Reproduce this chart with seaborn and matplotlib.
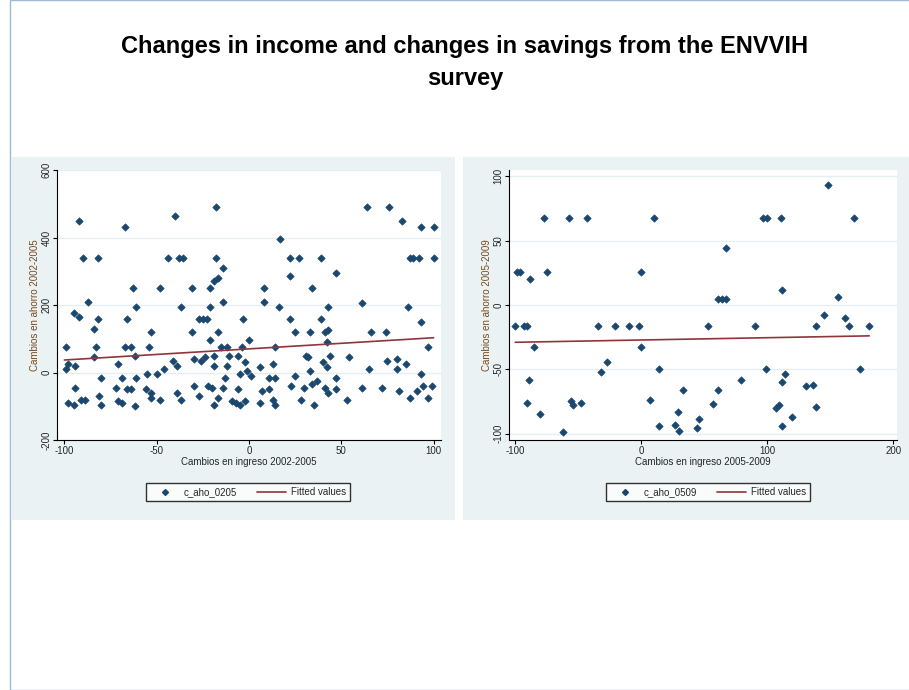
import numpy as np
import pandas as pd
import matplotlib
matplotlib.use("Agg")
import matplotlib.pyplot as plt
from matplotlib.patches import Rectangle
import seaborn as sns

# left panel: changes 2002-2005
x_0205 = [-92,-67,-40,-18,64,76,83,93,100,17,
          -90,-82,-44,-38,-36,-18,22,27,39,87,89,92,100,
          -14,-17,-19,47,22,
          -63,-48,-31,-21,8,34,
          -87,-61,-37,-21,-14,8,16,43,61,86,
          -95,-92,-82,-66,-84,-27,-25,-23,-3,22,39,93,
          -53,-31,-17,25,33,41,43,66,74,
          -99,-83,-67,-64,-54,-21,-15,-12,-4,0,14,42,97,
          -62,-84,-41,-30,-26,-24,-19,-11,-6,-2,31,32,40,44,54,75,80,85,
          -99,-98,-94,-71,-39,-46,-19,-12,-1,6,13,33,42,65,80,93,
          -80,-69,-61,-55,-13,-5,1,11,14,25,37,47,61,-50,
          -94,-72,-66,-64,-56,-53,-30,-22,-20,-14,-6,7,11,23,30,34,41,43,47,72,81,91,94,99,
          -98,-95,-91,-89,-81,-80,-71,-69,-53,-48,-39,-37,-27,-19,-17,-9,-7,-5,-2,6,13,14,28,35,53,87,97,-62]
y_0205 = [450,430,465,490,490,490,450,430,430,395,
          340,340,340,340,340,340,340,340,340,340,340,340,340,
          310,280,270,295,285,
          250,250,250,250,250,250,
          210,195,195,195,210,210,195,195,205,195,
          175,165,160,160,130,160,160,160,160,160,160,150,
          120,120,120,120,120,120,125,120,120,
          75,75,75,75,75,95,75,75,75,95,75,90,75,
          50,45,35,40,35,45,50,50,50,30,50,45,30,50,45,35,40,25,
          10,25,20,25,20,10,20,20,5,15,25,5,15,10,10,-5,
          -15,-15,-15,-5,-15,-5,-10,-15,-15,-10,-25,-15,-45,-5,
          -45,-45,-50,-50,-50,-60,-40,-40,-45,-45,-50,-55,-50,-40,-45,-35,-45,-60,-50,-45,-55,-55,-40,-40,
          -90,-95,-80,-80,-70,-95,-85,-90,-75,-80,-60,-80,-70,-95,-75,-85,-90,-95,-85,-90,-80,-95,-80,-95,-80,-75,-75,-100]
fit_x_0205 = [-100, 100]
fit_y_0205 = [37, 103]

# right panel: changes 2005-2009
x_0509 = [-100,-99,-96,-93,-91,-88,-85,-91,-89,-80,-77,-75,-62,-57,-56,-54,-48,-43,-34,-32,-27,-21,-10,-2,
          0,0,7,10,14,14,27,29,30,33,44,46,53,57,61,64,61,67,67,79,90,97,100,99,107,109,111,112,112,112,
          114,120,131,136,139,139,145,148,156,162,165,169,174,181]
y_0509 = [-16,26,26,-16,-16,20,-33,-76,-58,-85,68,26,-99,68,-75,-78,-76,68,-16,-52,-44,-16,-16,-16,
          26,-33,-74,68,-94,-50,-93,-83,-98,-66,-96,-89,-16,-77,5,5,-66,44,5,-58,-16,68,68,-50,-80,-78,68,12,-94,-60,
          -54,-87,-63,-62,-16,-79,-8,93,6,-10,-16,68,-50,-16]
fit_x_0509 = [-100, 181]
fit_y_0509 = [-29, -24]

navy = "#1a476f"
red = "#90353b"
sns.set_theme(style="white")
plt.rcParams['font.family'] = ['Liberation Sans', 'DejaVu Sans']
plt.rcParams['axes.unicode_minus'] = False

fig = plt.figure(figsize=(9.09, 6.9), dpi=100)
W, H = 909, 690

def px(x0, y0, x1, y1):
    return [x0 / W, 1 - y1 / H, (x1 - x0) / W, (y1 - y0) / H]

# page frame and panel backgrounds
fig.patches.append(Rectangle((10 / W, 0), 1, 1, transform=fig.transFigure,
                             fill=False, edgecolor="#9dbbd8", lw=1, zorder=-5))
for x0, x1 in [(12, 455), (463, 909)]:
    b = px(x0, 157, x1, 520)
    fig.patches.append(Rectangle((b[0], b[1]), b[2], b[3], transform=fig.transFigure,
                                 facecolor="#eaf2f3", edgecolor="none", zorder=-5))

fig.text(465 / W, 1 - 47 / H, "Changes in income and changes in savings from the ENVVIH",
         ha="center", va="center", fontsize=17, fontweight="bold", color="black")
fig.text(465 / W, 1 - 78 / H, "survey", ha="center", va="center", fontsize=17,
         fontweight="bold", color="black")

panels = [
    (px(57, 170, 441, 440), x_0205, y_0205, fit_x_0205, fit_y_0205, (-200, 600), [-200, 0, 200, 400, 600],
     (-104, 104), [-100, -50, 0, 50, 100], "Cambios en ingreso 2002-2005", "Cambios en ahorro 2002-2005",
     "c_aho_0205", 248),
    (px(509, 170, 897, 440), x_0509, y_0509, fit_x_0509, fit_y_0509, (-105, 105), [-100, -50, 0, 50, 100],
     (-105, 203), [-100, 0, 100, 200], "Cambios en ingreso 2005-2009", "Cambios en ahorro 2005-2009",
     "c_aho_0509", 708),
]

for rect, xs, ys, fx, fy, ylim, yt, xlim, xt, xl, yl, lab, lx in panels:
    ax = fig.add_axes(rect)
    ax.set_facecolor("white")
    sns.scatterplot(x=xs, y=ys, ax=ax, marker="D", s=14, color=navy, edgecolor=navy,
                    linewidth=0.5, legend=False)
    sns.lineplot(x=fx, y=fy, ax=ax, color=red, lw=1.2, legend=False)
    ax.set_xlim(*xlim)
    ax.set_ylim(*ylim)
    ax.set_xticks(xt)
    ax.set_yticks(yt)
    ax.grid(axis="y", color="#e6eef0", lw=1)
    for s in ["top", "right"]:
        ax.spines[s].set_visible(False)
    for s in ["left", "bottom"]:
        ax.spines[s].set_color("black")
        ax.spines[s].set_linewidth(0.8)
    ax.tick_params(axis="both", labelsize=7, length=3, width=0.8, color="black", direction="out",
                   bottom=True, left=True, pad=1)
    plt.setp(ax.get_yticklabels(), rotation=90, va="center")
    ax.set_xlabel(xl, fontsize=7, labelpad=1)
    ax.set_ylabel(yl, fontsize=7, color="#7a4a1e", labelpad=1)
    h = [plt.Line2D([], [], marker="D", ls="", color=navy, ms=3),
         plt.Line2D([], [], color=red, lw=1.2)]
    leg = fig.legend(h, [lab, "Fitted values"], loc="center", bbox_to_anchor=(lx / W, 1 - 492 / H),
                     ncol=2, fontsize=7, frameon=True, fancybox=False, edgecolor="black",
                     handlelength=3, handletextpad=0.5, columnspacing=2, borderpad=0.4)
    leg.get_frame().set_linewidth(1)

fig.savefig("out.png", dpi=100, facecolor="white")
